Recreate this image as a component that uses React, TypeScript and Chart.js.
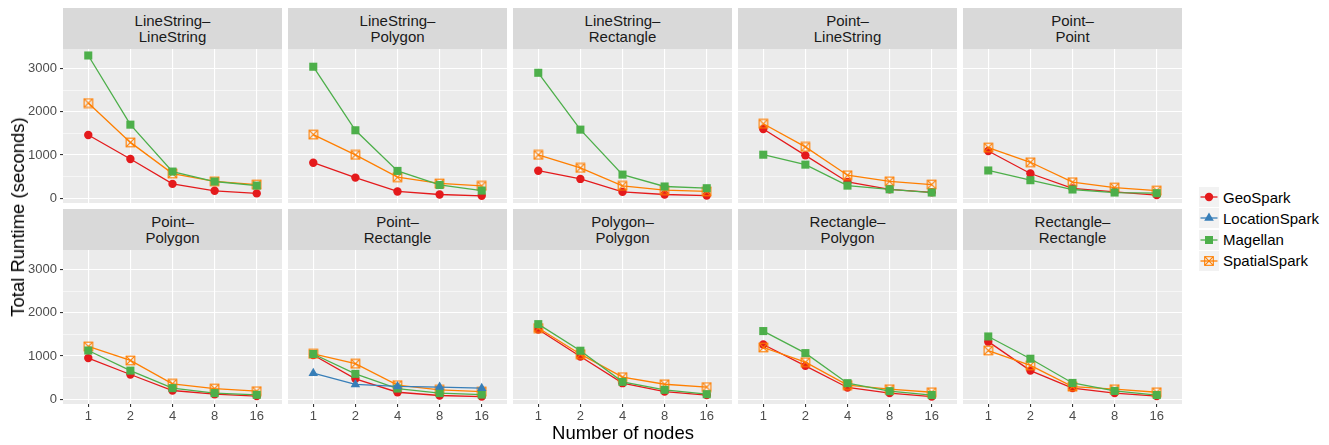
import React, { useEffect, useRef } from 'react';
import { Chart, registerables } from 'chart.js';

Chart.register(...registerables);

const FONT = '"Liberation Sans", Arial, Helvetica, sans-serif';

// ---------- data ----------
const panelTitles: string[][] = [
  ['LineString–', 'LineString'],
  ['LineString–', 'Polygon'],
  ['LineString–', 'Rectangle'],
  ['Point–', 'LineString'],
  ['Point–', 'Point'],
  ['Point–', 'Polygon'],
  ['Point–', 'Rectangle'],
  ['Polygon–', 'Polygon'],
  ['Rectangle–', 'Polygon'],
  ['Rectangle–', 'Rectangle'],
];

const nodeLabels = ['1', '2', '4', '8', '16'];
const yMajorTicks = [0, 1000, 2000, 3000];
const yMinorTicks = [500, 1500, 2500];

const seriesNames = ['GeoSpark', 'LocationSpark', 'Magellan', 'SpatialSpark'];
const seriesColors = ['#E41A1C', '#377EB8', '#4DAF4A', '#FF7F00'];

const geoSpark: number[][] = [
  [1460, 905, 330, 170, 110],
  [820, 475, 155, 85, 55],
  [635, 445, 145, 85, 60],
  [1600, 990, 375, 205, 135],
  [1090, 570, 225, 145, 70],
  [950, 570, 200, 115, 70],
  [1020, 470, 160, 85, 60],
  [1610, 985, 370, 175, 95],
  [1265, 770, 270, 140, 60],
  [1330, 660, 255, 140, 70],
];

const locationSpark: (number[] | null)[] = [
  null, null, null, null, null,
  null,
  [600, 340, 295, 280, 255],
  null, null, null,
];

const magellan: number[][] = [
  [3300, 1700, 615, 385, 290],
  [3040, 1570, 630, 305, 175],
  [2900, 1585, 545, 270, 230],
  [1005, 775, 290, 205, 130],
  [640, 415, 200, 130, 115],
  [1125, 660, 255, 140, 100],
  [1045, 585, 245, 140, 105],
  [1735, 1120, 400, 215, 115],
  [1575, 1065, 370, 185, 95],
  [1450, 935, 375, 190, 95],
];

const spatialSpark: number[][] = [
  [2200, 1290, 570, 390, 315],
  [1470, 1000, 485, 340, 285],
  [1000, 700, 285, 185, 155],
  [1720, 1185, 530, 390, 315],
  [1170, 830, 370, 245, 175],
  [1220, 895, 355, 245, 185],
  [1050, 820, 325, 215, 175],
  [1645, 1040, 510, 345, 280],
  [1195, 855, 325, 230, 160],
  [1125, 780, 290, 230, 160],
];

// ---------- layout ----------
const COL_LEFT = [63, 288, 513, 738, 963];
const ROW_TOP = [49, 250];
const PANEL_W = 219;
const PANEL_H = 154;
const STRIP_H = 41;
const Y_AXIS_W = 55;
const X_AXIS_H = 24;
const Y_MIN = -112;
const Y_MAX = 3450;

function makeSquareCross(color: string): HTMLCanvasElement {
  const c = document.createElement('canvas');
  c.width = 11;
  c.height = 11;
  const ctx = c.getContext('2d')!;
  ctx.strokeStyle = color;
  ctx.lineWidth = 1.1;
  ctx.strokeRect(1.2, 1.2, 8.6, 8.6);
  ctx.beginPath();
  ctx.moveTo(1.2, 1.2);
  ctx.lineTo(9.8, 9.8);
  ctx.moveTo(9.8, 1.2);
  ctx.lineTo(1.2, 9.8);
  ctx.stroke();
  return c;
}

const panelBg = {
  id: 'panelBg',
  beforeDraw(chart: any) {
    const { ctx, chartArea } = chart;
    ctx.save();
    ctx.fillStyle = '#EBEBEB';
    ctx.fillRect(chartArea.left, chartArea.top, chartArea.right - chartArea.left, chartArea.bottom - chartArea.top);
    ctx.restore();
  },
};

function Panel({ index }: { index: number }) {
  const ref = useRef<HTMLCanvasElement | null>(null);
  const row = Math.floor(index / 5);
  const col = index % 5;
  const showY = col === 0;
  const showX = row === 1;
  const left = showY ? COL_LEFT[col] - Y_AXIS_W : COL_LEFT[col];
  const top = ROW_TOP[row];
  const width = PANEL_W + (showY ? Y_AXIS_W : 0);
  const height = PANEL_H + (showX ? X_AXIS_H : 0);

  useEffect(() => {
    if (!ref.current) return;
    const crossImg = makeSquareCross(seriesColors[3]);
    const seriesData = [geoSpark[index], locationSpark[index], magellan[index], spatialSpark[index]];
    const styles: any[] = ['circle', 'triangle', 'rect', crossImg];
    const radii = [4.2, 5.5, 5.7, 5.5];
    const orders = [3, 0, 1, 2];
    const datasets: any[] = [];
    seriesData.forEach((vals, s) => {
      if (!vals) return;
      datasets.push({
        label: seriesNames[s],
        data: vals.map((v, i) => ({ x: i, y: v })),
        borderColor: seriesColors[s],
        backgroundColor: seriesColors[s],
        borderWidth: 1.3,
        pointStyle: styles[s],
        pointRadius: radii[s],
        pointBorderWidth: 0,
        pointBackgroundColor: seriesColors[s],
        order: orders[s],
        tension: 0,
      });
    });

    const chart = new Chart(ref.current, {
      type: 'line',
      data: { datasets },
      plugins: [panelBg],
      options: {
        responsive: false,
        animation: false,
        events: [],
        layout: { padding: 0, autoPadding: false },
        plugins: { legend: { display: false }, tooltip: { enabled: false } },
        scales: {
          x: {
            type: 'linear',
            min: -0.6,
            max: 4.6,
            afterBuildTicks: (s: any) => {
              s.ticks = nodeLabels.map((_, i) => ({ value: i }));
            },
            afterFit: (s: any) => {
              s.height = showX ? X_AXIS_H : 0;
              s.paddingLeft = 0;
              s.paddingRight = 0;
            },
            ticks: {
              display: showX,
              autoSkip: false,
              maxRotation: 0,
              padding: 2,
              color: '#4D4D4D',
              font: { family: FONT, size: 13 },
              callback: (_v: any, i: number) => nodeLabels[i],
            },
            grid: {
              color: '#FFFFFF',
              lineWidth: 1.1,
              drawTicks: showX,
              tickLength: 3,
              tickColor: '#333333',
              tickWidth: 1.1,
            },
            border: { display: false },
          },
          y: {
            type: 'linear',
            min: Y_MIN,
            max: Y_MAX,
            afterBuildTicks: (s: any) => {
              s.ticks = [...yMajorTicks, ...yMinorTicks].sort((a, b) => a - b).map((v) => ({ value: v }));
            },
            afterFit: (s: any) => {
              s.width = showY ? Y_AXIS_W : 0;
              s.paddingTop = 0;
              s.paddingBottom = 0;
            },
            ticks: {
              display: showY,
              autoSkip: false,
              padding: 3,
              color: '#4D4D4D',
              font: { family: FONT, size: 13 },
              callback: (v: any) => (yMajorTicks.includes(v) ? String(v) : ''),
            },
            grid: {
              color: '#FFFFFF',
              lineWidth: (ctx: any) => (yMajorTicks.includes(ctx.tick?.value) ? 1.1 : 0.55),
              drawTicks: showY,
              tickLength: 3,
              tickColor: (ctx: any) => (yMajorTicks.includes(ctx.tick?.value) ? '#333333' : 'rgba(0,0,0,0)'),
              tickWidth: 1.1,
            },
            border: { display: false },
          },
        },
      } as any,
    });
    return () => chart.destroy();
  }, [index]);

  return (
    <>
      <div
        style={{
          position: 'absolute',
          left: COL_LEFT[col],
          top: ROW_TOP[row] - STRIP_H,
          width: PANEL_W,
          height: STRIP_H,
          background: '#D9D9D9',
          display: 'flex',
          alignItems: 'center',
          justifyContent: 'center',
          textAlign: 'center',
          fontFamily: FONT,
          fontSize: 15,
          lineHeight: '15.6px',
          color: '#1A1A1A',
        }}
      >
        <div>
          {panelTitles[index][0]}
          <br />
          {panelTitles[index][1]}
        </div>
      </div>
      <canvas
        ref={ref}
        width={width}
        height={height}
        style={{ position: 'absolute', left, top, width, height }}
      />
    </>
  );
}

function LegendIcon({ s }: { s: number }) {
  const c = seriesColors[s];
  let marker: React.ReactNode = null;
  if (s === 0) marker = <circle cx={10} cy={10} r={4.2} fill={c} />;
  if (s === 1) marker = <polygon points="10,4.5 14.8,12.75 5.2,12.75" fill={c} />;
  if (s === 2) marker = <rect x={6} y={6} width={8} height={8} fill={c} />;
  if (s === 3)
    marker = (
      <g stroke={c} strokeWidth={1.1} fill="none">
        <rect x={5.7} y={5.7} width={8.6} height={8.6} />
        <line x1={5.7} y1={5.7} x2={14.3} y2={14.3} />
        <line x1={14.3} y1={5.7} x2={5.7} y2={14.3} />
      </g>
    );
  return (
    <svg width={20} height={20} style={{ display: 'block' }}>
      <rect x={0} y={0} width={20} height={20} fill="#F2F2F2" />
      <line x1={1.5} y1={10} x2={18.5} y2={10} stroke={c} strokeWidth={1.3} />
      {marker}
    </svg>
  );
}

export default function App() {
  return (
    <div
      style={{
        position: 'fixed',
        left: 0,
        top: 0,
        width: 1329,
        height: 445,
        background: '#FFFFFF',
        overflow: 'hidden',
      }}
    >
      {panelTitles.map((_, i) => (
        <Panel key={i} index={i} />
      ))}
      <div
        style={{
          position: 'absolute',
          left: 18,
          top: 217,
          transform: 'translate(-50%, -50%) rotate(-90deg)',
          whiteSpace: 'nowrap',
          fontFamily: FONT,
          fontSize: 18.5,
          color: '#000000',
        }}
      >
        Total Runtime (seconds)
      </div>
      <div
        style={{
          position: 'absolute',
          left: 623,
          top: 433,
          transform: 'translate(-50%, -50%)',
          whiteSpace: 'nowrap',
          fontFamily: FONT,
          fontSize: 18.5,
          color: '#000000',
        }}
      >
        Number of nodes
      </div>
      {seriesNames.map((name, s) => (
        <div
          key={name}
          style={{
            position: 'absolute',
            left: 1199,
            top: 187 + s * 21.3,
            height: 20,
            display: 'flex',
            alignItems: 'center',
            fontFamily: FONT,
            fontSize: 15,
            color: '#000000',
            whiteSpace: 'nowrap',
          }}
        >
          <LegendIcon s={s} />
          <span style={{ marginLeft: 4 }}>{name}</span>
        </div>
      ))}
    </div>
  );
}
